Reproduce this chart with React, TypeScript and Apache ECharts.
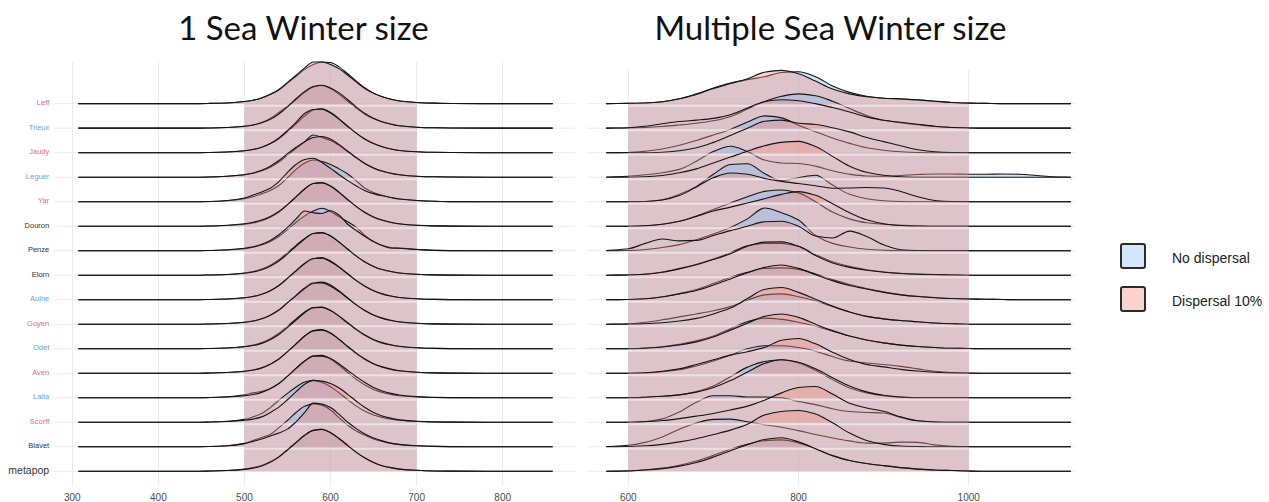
import React, { useEffect, useRef } from "react";
import * as echarts from "echarts";

// ---------- DATA ----------
const rowNames = ["Leff", "Trieux", "Jaudy", "Leguer", "Yar", "Douron", "Penze", "Elorn", "Aulne", "Goyen", "Odet", "Aven", "Laita", "Scorff", "Blavet", "metapop"];
const rowLabelColors = ["#e3725f", "#6fa3d2", "#e3725f", "#6fa3d2", "#e3725f", "#333333", "#333333", "#333333", "#6fa3d2", "#e3725f", "#6fa3d2", "#e3725f", "#6fa3d2", "#e3725f", "#333333", "#333333"];

const titles = ["1 Sea Winter size", "Multiple Sea Winter size"];
const legendNames = ["No dispersal", "Dispersal 10%"];

// 1 Sea Winter size (x = size, heights in row units)
const leftX = [307, 440, 460, 480, 500, 510, 520, 530, 540, 550, 560, 570, 580, 590, 600, 610, 620, 630, 640, 650, 660, 670, 680, 700, 720, 740, 780, 858];
const leftNoDispersal = [
  [0, 0, 0.01, 0.03, 0.09, 0.14, 0.23, 0.37, 0.56, 0.84, 1.12, 1.4, 1.6, 1.7, 1.68, 1.5, 1.22, 0.92, 0.64, 0.43, 0.28, 0.18, 0.11, 0.05, 0.02, 0.005, 0, 0],
  [0, 0, 0.01, 0.03, 0.08, 0.13, 0.23, 0.4, 0.64, 0.9, 1.18, 1.46, 1.68, 1.74, 1.62, 1.38, 1.1, 0.82, 0.57, 0.38, 0.25, 0.16, 0.1, 0.04, 0.015, 0.005, 0, 0],
  [0, 0, 0.01, 0.03, 0.08, 0.13, 0.22, 0.36, 0.57, 0.86, 1.18, 1.5, 1.74, 1.79, 1.64, 1.38, 1.08, 0.8, 0.56, 0.37, 0.24, 0.15, 0.09, 0.04, 0.015, 0.005, 0, 0],
  [0, 0, 0.01, 0.04, 0.1, 0.16, 0.26, 0.41, 0.62, 0.9, 1.18, 1.45, 1.72, 1.62, 1.5, 1.3, 1.04, 0.78, 0.55, 0.37, 0.24, 0.16, 0.1, 0.04, 0.015, 0.005, 0, 0],
  [0, 0, 0.01, 0.04, 0.12, 0.2, 0.32, 0.46, 0.66, 0.98, 1.32, 1.58, 1.7, 1.64, 1.52, 1.34, 1.13, 0.85, 0.55, 0.38, 0.26, 0.17, 0.11, 0.05, 0.02, 0.005, 0, 0],
  [0, 0, 0.01, 0.03, 0.08, 0.13, 0.22, 0.37, 0.58, 0.88, 1.2, 1.52, 1.74, 1.78, 1.64, 1.38, 1.08, 0.8, 0.56, 0.37, 0.24, 0.15, 0.09, 0.04, 0.015, 0.005, 0, 0],
  [0, 0, 0.01, 0.03, 0.08, 0.14, 0.23, 0.38, 0.58, 0.86, 1.16, 1.42, 1.62, 1.73, 1.6, 1.38, 1.18, 0.95, 0.62, 0.36, 0.2, 0.1, 0.11, 0.06, 0.015, 0.005, 0, 0],
  [0, 0, 0.01, 0.03, 0.09, 0.15, 0.25, 0.41, 0.63, 0.92, 1.22, 1.5, 1.7, 1.74, 1.6, 1.35, 1.06, 0.78, 0.54, 0.36, 0.23, 0.15, 0.09, 0.04, 0.015, 0.005, 0, 0],
  [0, 0, 0.01, 0.03, 0.08, 0.13, 0.22, 0.37, 0.58, 0.87, 1.17, 1.47, 1.67, 1.72, 1.58, 1.34, 1.06, 0.78, 0.55, 0.37, 0.24, 0.15, 0.09, 0.04, 0.015, 0.005, 0, 0],
  [0, 0, 0.01, 0.03, 0.08, 0.13, 0.22, 0.37, 0.58, 0.87, 1.16, 1.45, 1.66, 1.72, 1.6, 1.36, 1.07, 0.79, 0.55, 0.37, 0.24, 0.15, 0.09, 0.04, 0.015, 0.005, 0, 0],
  [0, 0, 0.01, 0.03, 0.09, 0.15, 0.25, 0.41, 0.63, 0.92, 1.22, 1.5, 1.68, 1.7, 1.56, 1.32, 1.04, 0.77, 0.54, 0.36, 0.23, 0.15, 0.09, 0.04, 0.015, 0.005, 0, 0],
  [0, 0, 0.01, 0.03, 0.08, 0.13, 0.22, 0.37, 0.58, 0.88, 1.2, 1.52, 1.74, 1.78, 1.64, 1.38, 1.08, 0.8, 0.56, 0.38, 0.25, 0.16, 0.1, 0.04, 0.015, 0.005, 0, 0],
  [0, 0, 0.01, 0.04, 0.12, 0.2, 0.26, 0.38, 0.58, 0.88, 1.2, 1.5, 1.7, 1.73, 1.58, 1.32, 1.03, 0.75, 0.52, 0.34, 0.22, 0.14, 0.08, 0.035, 0.01, 0.005, 0, 0],
  [0, 0, 0.01, 0.04, 0.12, 0.22, 0.36, 0.6, 0.9, 1.18, 1.44, 1.64, 1.71, 1.62, 1.45, 1.2, 0.92, 0.66, 0.45, 0.3, 0.2, 0.13, 0.08, 0.035, 0.01, 0.005, 0, 0],
  [0, 0, 0.01, 0.04, 0.14, 0.26, 0.38, 0.5, 0.78, 1.08, 1.4, 1.65, 1.75, 1.7, 1.5, 1.18, 0.88, 0.64, 0.47, 0.32, 0.22, 0.14, 0.09, 0.04, 0.015, 0.005, 0, 0],
  [0, 0, 0.01, 0.03, 0.09, 0.15, 0.24, 0.39, 0.6, 0.89, 1.18, 1.47, 1.67, 1.71, 1.57, 1.33, 1.05, 0.77, 0.54, 0.36, 0.23, 0.15, 0.09, 0.04, 0.015, 0.005, 0, 0],
];
const leftDispersal = [
  [0, 0, 0.01, 0.03, 0.09, 0.14, 0.23, 0.38, 0.58, 0.87, 1.16, 1.46, 1.7, 1.7, 1.6, 1.42, 1.16, 0.88, 0.62, 0.42, 0.28, 0.18, 0.11, 0.05, 0.02, 0.005, 0, 0],
  [0, 0, 0.01, 0.03, 0.08, 0.13, 0.22, 0.36, 0.58, 0.87, 1.2, 1.5, 1.7, 1.75, 1.64, 1.44, 1.16, 0.86, 0.6, 0.4, 0.26, 0.17, 0.1, 0.04, 0.015, 0.005, 0, 0],
  [0, 0, 0.01, 0.03, 0.08, 0.13, 0.22, 0.37, 0.6, 0.9, 1.24, 1.6, 1.76, 1.77, 1.62, 1.36, 1.07, 0.79, 0.55, 0.37, 0.24, 0.15, 0.09, 0.04, 0.015, 0.005, 0, 0],
  [0, 0, 0.01, 0.04, 0.1, 0.17, 0.28, 0.45, 0.68, 0.96, 1.22, 1.45, 1.62, 1.66, 1.55, 1.33, 1.06, 0.8, 0.56, 0.38, 0.25, 0.16, 0.1, 0.04, 0.015, 0.005, 0, 0],
  [0, 0, 0.01, 0.05, 0.15, 0.27, 0.4, 0.55, 0.82, 1.2, 1.52, 1.72, 1.77, 1.6, 1.36, 1.1, 0.86, 0.64, 0.45, 0.33, 0.24, 0.17, 0.11, 0.05, 0.02, 0.005, 0, 0],
  [0, 0, 0.01, 0.04, 0.1, 0.16, 0.25, 0.4, 0.6, 0.88, 1.2, 1.52, 1.74, 1.77, 1.63, 1.38, 1.08, 0.8, 0.56, 0.38, 0.25, 0.16, 0.1, 0.04, 0.015, 0.005, 0, 0],
  [0, 0, 0.01, 0.04, 0.1, 0.16, 0.26, 0.42, 0.65, 0.95, 1.3, 1.62, 1.55, 1.52, 1.63, 1.45, 1.08, 0.82, 0.58, 0.38, 0.22, 0.12, 0.1, 0.05, 0.015, 0.005, 0, 0],
  [0, 0, 0.01, 0.03, 0.08, 0.13, 0.22, 0.37, 0.58, 0.87, 1.18, 1.48, 1.7, 1.73, 1.6, 1.35, 1.06, 0.78, 0.54, 0.36, 0.23, 0.15, 0.09, 0.04, 0.015, 0.005, 0, 0],
  [0, 0, 0.01, 0.03, 0.08, 0.13, 0.22, 0.37, 0.58, 0.88, 1.19, 1.49, 1.68, 1.69, 1.55, 1.32, 1.05, 0.78, 0.55, 0.37, 0.24, 0.15, 0.09, 0.04, 0.015, 0.005, 0, 0],
  [0, 0, 0.01, 0.03, 0.08, 0.13, 0.22, 0.37, 0.58, 0.88, 1.18, 1.48, 1.68, 1.68, 1.55, 1.33, 1.06, 0.79, 0.56, 0.38, 0.25, 0.16, 0.1, 0.04, 0.015, 0.005, 0, 0],
  [0, 0, 0.01, 0.03, 0.08, 0.13, 0.22, 0.37, 0.58, 0.87, 1.17, 1.47, 1.67, 1.69, 1.56, 1.33, 1.06, 0.79, 0.56, 0.38, 0.25, 0.16, 0.1, 0.04, 0.015, 0.005, 0, 0],
  [0, 0, 0.01, 0.03, 0.08, 0.13, 0.22, 0.37, 0.58, 0.88, 1.2, 1.52, 1.73, 1.76, 1.63, 1.38, 1.09, 0.82, 0.58, 0.39, 0.26, 0.17, 0.1, 0.04, 0.015, 0.005, 0, 0],
  [0, 0, 0.01, 0.03, 0.08, 0.13, 0.22, 0.37, 0.58, 0.88, 1.2, 1.5, 1.7, 1.7, 1.6, 1.38, 1.12, 0.86, 0.62, 0.42, 0.28, 0.18, 0.11, 0.045, 0.015, 0.005, 0, 0],
  [0, 0, 0.01, 0.03, 0.08, 0.13, 0.22, 0.4, 0.62, 0.92, 1.25, 1.55, 1.71, 1.68, 1.58, 1.4, 1.14, 0.86, 0.6, 0.4, 0.26, 0.17, 0.1, 0.04, 0.015, 0.005, 0, 0],
  [0, 0, 0.01, 0.04, 0.13, 0.22, 0.32, 0.44, 0.56, 0.72, 1.02, 1.4, 1.78, 1.74, 1.6, 1.32, 1.0, 0.74, 0.52, 0.36, 0.24, 0.15, 0.1, 0.04, 0.015, 0.005, 0, 0],
  [0, 0, 0.01, 0.03, 0.08, 0.13, 0.22, 0.37, 0.58, 0.87, 1.17, 1.47, 1.67, 1.71, 1.57, 1.33, 1.05, 0.77, 0.54, 0.36, 0.23, 0.15, 0.09, 0.04, 0.015, 0.005, 0, 0],
];

// Multiple Sea Winter size
const rightX = [574, 600, 620, 640, 660, 680, 700, 720, 740, 760, 780, 800, 820, 840, 860, 880, 900, 920, 940, 960, 980, 1000, 1020, 1040, 1060, 1080, 1100, 1120];
const rightNoDispersal = [
  [0, 0.01, 0.03, 0.08, 0.2, 0.4, 0.64, 0.84, 0.98, 1.1, 1.27, 1.3, 1.1, 0.72, 0.46, 0.3, 0.22, 0.2, 0.16, 0.1, 0.05, 0.02, 0.01, 0, 0, 0, 0, 0],
  [0, 0.01, 0.03, 0.07, 0.13, 0.2, 0.3, 0.48, 0.78, 1.08, 1.3, 1.4, 1.32, 1.1, 0.8, 0.52, 0.32, 0.22, 0.14, 0.07, 0.03, 0.01, 0, 0, 0, 0, 0, 0],
  [0, 0.01, 0.06, 0.15, 0.3, 0.5, 0.72, 0.95, 1.25, 1.5, 1.42, 1.12, 0.85, 0.6, 0.38, 0.2, 0.1, 0.04, 0.01, 0, 0, 0, 0, 0, 0, 0, 0, 0],
  [0.01, 0.04, 0.1, 0.18, 0.32, 0.65, 1.05, 1.26, 1.05, 0.7, 0.58, 0.56, 0.45, 0.26, 0.12, 0.05, 0.04, 0.07, 0.11, 0.13, 0.13, 0.12, 0.12, 0.13, 0.12, 0.07, 0.02, 0],
  [0, 0, 0.01, 0.08, 0.3, 0.62, 1.12, 1.52, 1.55, 1.15, 0.86, 0.98, 1.08, 0.68, 0.3, 0.12, 0.04, 0.01, 0, 0, 0, 0, 0, 0, 0, 0, 0, 0],
  [0, 0, 0.02, 0.08, 0.2, 0.42, 0.68, 0.95, 1.2, 1.42, 1.48, 1.36, 1.0, 0.58, 0.3, 0.14, 0.08, 0.04, 0.01, 0, 0, 0, 0, 0, 0, 0, 0, 0],
  [0, 0.01, 0.05, 0.13, 0.25, 0.45, 0.68, 0.95, 1.3, 1.74, 1.55, 1.25, 0.62, 0.3, 0.15, 0.06, 0.02, 0, 0, 0, 0, 0, 0, 0, 0, 0, 0, 0],
  [0, 0.01, 0.05, 0.13, 0.28, 0.45, 0.66, 0.92, 1.2, 1.3, 1.3, 1.18, 0.84, 0.55, 0.36, 0.22, 0.14, 0.08, 0.05, 0.03, 0.01, 0, 0, 0, 0, 0, 0, 0],
  [0, 0.01, 0.04, 0.12, 0.25, 0.42, 0.66, 0.92, 1.12, 1.28, 1.3, 1.24, 1.05, 0.82, 0.62, 0.46, 0.32, 0.21, 0.14, 0.09, 0.05, 0.03, 0.02, 0.01, 0, 0, 0, 0],
  [0, 0.02, 0.08, 0.18, 0.3, 0.42, 0.55, 0.72, 0.98, 1.2, 1.24, 1.12, 0.95, 0.72, 0.5, 0.32, 0.22, 0.15, 0.1, 0.05, 0.02, 0, 0, 0, 0, 0, 0, 0],
  [0, 0, 0.03, 0.08, 0.18, 0.32, 0.52, 0.82, 1.1, 1.25, 1.2, 1.08, 0.92, 0.72, 0.52, 0.36, 0.24, 0.15, 0.09, 0.05, 0.02, 0.01, 0, 0, 0, 0, 0, 0],
  [0, 0, 0.01, 0.06, 0.14, 0.3, 0.5, 0.74, 1.0, 1.12, 1.12, 1.05, 0.9, 0.68, 0.5, 0.42, 0.36, 0.28, 0.18, 0.08, 0.03, 0.01, 0, 0, 0, 0, 0, 0],
  [0, 0, 0.02, 0.06, 0.12, 0.25, 0.48, 0.86, 1.25, 1.48, 1.55, 1.42, 1.12, 0.74, 0.4, 0.2, 0.08, 0.02, 0, 0, 0, 0, 0, 0, 0, 0, 0, 0],
  [0, 0, 0.03, 0.14, 0.42, 0.82, 1.08, 1.08, 1.03, 1.03, 1.0, 0.85, 0.72, 0.55, 0.44, 0.4, 0.38, 0.2, 0.06, 0.01, 0, 0, 0, 0, 0, 0, 0, 0],
  [0.01, 0.06, 0.18, 0.4, 0.72, 0.97, 1.12, 1.13, 1.02, 0.9, 0.8, 0.66, 0.5, 0.36, 0.24, 0.15, 0.15, 0.19, 0.18, 0.08, 0.02, 0, 0, 0, 0, 0, 0, 0],
  [0, 0.02, 0.06, 0.13, 0.25, 0.42, 0.65, 0.9, 1.1, 1.25, 1.28, 1.16, 0.92, 0.64, 0.44, 0.32, 0.23, 0.15, 0.09, 0.05, 0.03, 0.01, 0, 0, 0, 0, 0, 0],
];
const rightDispersal = [
  [0, 0.01, 0.03, 0.08, 0.2, 0.38, 0.62, 0.82, 1.02, 1.28, 1.36, 1.22, 0.92, 0.6, 0.4, 0.28, 0.22, 0.19, 0.15, 0.1, 0.05, 0.02, 0.01, 0, 0, 0, 0, 0],
  [0, 0.02, 0.08, 0.18, 0.27, 0.33, 0.4, 0.55, 0.82, 1.08, 1.16, 1.12, 1.0, 0.84, 0.66, 0.46, 0.32, 0.24, 0.16, 0.08, 0.03, 0.01, 0, 0, 0, 0, 0, 0],
  [0, 0, 0, 0.02, 0.08, 0.2, 0.42, 0.7, 1.0, 1.28, 1.33, 1.2, 1.15, 1.02, 0.85, 0.62, 0.45, 0.28, 0.12, 0.04, 0.01, 0, 0, 0, 0, 0, 0, 0],
  [0, 0, 0.02, 0.07, 0.18, 0.34, 0.58, 0.82, 1.06, 1.28, 1.42, 1.46, 1.25, 0.85, 0.45, 0.2, 0.08, 0.02, 0, 0, 0, 0, 0, 0, 0, 0, 0, 0],
  [0, 0, 0.01, 0.07, 0.25, 0.6, 0.98, 1.17, 1.12, 0.95, 0.83, 0.74, 0.65, 0.55, 0.56, 0.58, 0.56, 0.42, 0.2, 0.05, 0.01, 0, 0, 0, 0, 0, 0, 0],
  [0, 0, 0.02, 0.08, 0.2, 0.4, 0.62, 0.78, 0.95, 1.12, 1.3, 1.41, 1.26, 0.92, 0.55, 0.26, 0.1, 0.03, 0.01, 0, 0, 0, 0, 0, 0, 0, 0, 0],
  [0.01, 0.08, 0.3, 0.48, 0.4, 0.42, 0.62, 0.82, 1.0, 1.18, 1.2, 1.0, 0.6, 0.52, 0.8, 0.58, 0.24, 0.04, 0.01, 0, 0, 0, 0, 0, 0, 0, 0, 0],
  [0, 0.01, 0.04, 0.12, 0.26, 0.43, 0.64, 0.88, 1.18, 1.35, 1.36, 1.18, 0.8, 0.5, 0.32, 0.2, 0.12, 0.07, 0.04, 0.02, 0.01, 0, 0, 0, 0, 0, 0, 0],
  [0, 0.01, 0.04, 0.12, 0.24, 0.38, 0.6, 0.85, 1.1, 1.32, 1.42, 1.28, 1.02, 0.78, 0.58, 0.44, 0.3, 0.2, 0.13, 0.08, 0.05, 0.03, 0.02, 0.01, 0, 0, 0, 0],
  [0, 0, 0.02, 0.06, 0.13, 0.24, 0.42, 0.66, 1.05, 1.42, 1.5, 1.3, 1.02, 0.74, 0.5, 0.32, 0.22, 0.15, 0.1, 0.05, 0.02, 0, 0, 0, 0, 0, 0, 0],
  [0, 0, 0.02, 0.07, 0.15, 0.28, 0.48, 0.76, 1.04, 1.32, 1.42, 1.28, 1.0, 0.74, 0.52, 0.36, 0.24, 0.15, 0.09, 0.05, 0.02, 0.01, 0, 0, 0, 0, 0, 0],
  [0, 0, 0.02, 0.08, 0.18, 0.36, 0.55, 0.74, 0.88, 1.05, 1.35, 1.42, 1.2, 0.86, 0.56, 0.36, 0.26, 0.16, 0.09, 0.04, 0.01, 0, 0, 0, 0, 0, 0, 0],
  [0, 0, 0.02, 0.06, 0.12, 0.23, 0.42, 0.7, 1.05, 1.4, 1.55, 1.45, 1.18, 0.82, 0.48, 0.24, 0.1, 0.03, 0, 0, 0, 0, 0, 0, 0, 0, 0, 0],
  [0, 0, 0.02, 0.07, 0.15, 0.25, 0.36, 0.5, 0.66, 0.9, 1.2, 1.42, 1.46, 1.15, 0.78, 0.58, 0.45, 0.22, 0.06, 0.01, 0, 0, 0, 0, 0, 0, 0, 0],
  [0, 0.01, 0.04, 0.1, 0.2, 0.33, 0.5, 0.68, 0.92, 1.3, 1.44, 1.48, 1.34, 0.98, 0.56, 0.26, 0.1, 0.03, 0.01, 0, 0, 0, 0, 0, 0, 0, 0, 0],
  [0, 0.01, 0.05, 0.11, 0.21, 0.36, 0.58, 0.84, 1.08, 1.3, 1.37, 1.2, 0.92, 0.64, 0.44, 0.32, 0.23, 0.15, 0.09, 0.05, 0.03, 0.01, 0, 0, 0, 0, 0, 0],
];

// axis settings (value units)
const leftAxis = { min: 300, max: 800, interval: 100 };
const rightAxis = { min: 600, max: 1000, interval: 200 };
const leftBand = [500, 700];
const rightBand = [600, 1000];
const leftGridExtent = [279, 884];
const rightGridExtent = [551, 1125];

// ---------- STYLE ----------
const BLUE_FILL = "rgba(135,188,238,0.4)";
const RED_FILL = "rgba(243,145,133,0.4)";
const LINE = "#141414";
const GRID = "#ebebeb";
const nRows = rowNames.length;
const Y_MIN = -0.6;
const PX_PER_ROW = 424 / 17.3;

function f(n: number) {
  return n.toFixed(2);
}

function monoCurve(p: number[][]): string {
  const n = p.length;
  const dx: number[] = [], m: number[] = [];
  for (let i = 0; i < n - 1; i++) {
    dx.push(p[i + 1][0] - p[i][0]);
    m.push((p[i + 1][1] - p[i][1]) / (p[i + 1][0] - p[i][0]));
  }
  const t: number[] = new Array(n).fill(0);
  t[0] = m[0];
  t[n - 1] = m[n - 2];
  for (let i = 1; i < n - 1; i++) {
    if (m[i - 1] * m[i] <= 0) t[i] = 0;
    else {
      const w1 = 2 * dx[i] + dx[i - 1];
      const w2 = dx[i] + 2 * dx[i - 1];
      t[i] = (w1 + w2) / (w1 / m[i - 1] + w2 / m[i]);
    }
  }
  let d = "";
  for (let i = 0; i < n - 1; i++) {
    const h = dx[i] / 3;
    d += ` C${f(p[i][0] + h)},${f(p[i][1] + t[i] * h)} ${f(p[i + 1][0] - h)},${f(p[i + 1][1] - t[i + 1] * h)} ${f(p[i + 1][0])},${f(p[i + 1][1])}`;
  }
  return d;
}

function gridSeries(axisIdx: number, ext: number[], withLabels: boolean) {
  return {
    type: "custom",
    xAxisIndex: axisIdx,
    yAxisIndex: axisIdx,
    z: 1,
    silent: true,
    data: rowNames.map((_, r) => [ext[0], nRows - 1 - r]),
    encode: { x: 0, y: 1 },
    renderItem: (params: any, api: any) => {
      const r = params.dataIndex;
      const k = nRows - 1 - r;
      const a = api.coord([ext[0], k]);
      const b = api.coord([ext[1], k]);
      const children: any[] = [
        { type: "line", shape: { x1: a[0], y1: a[1], x2: b[0], y2: b[1] }, style: { stroke: GRID, lineWidth: 1 } },
      ];
      if (withLabels) {
        const isMeta = r === nRows - 1;
        children.push({
          type: "text",
          x: a[0] - 5,
          y: a[1] - 1,
          style: {
            text: rowNames[r],
            fill: rowLabelColors[r],
            fontSize: isMeta ? 10.5 : 7.5,
            fontFamily: "Liberation Sans",
            align: "right",
            textAlign: "right",
            verticalAlign: "middle",
            textVerticalAlign: "middle",
          },
        });
      }
      return { type: "group", children };
    },
  };
}

function ridgeSeries(axisIdx: number, xs: number[], blues: number[][], reds: number[][], band: number[]) {
  const items: number[][] = [];
  for (let r = 0; r < nRows; r++) {
    items.push([r, 0]);
    items.push([r, 1]);
  }
  return {
    type: "custom",
    xAxisIndex: axisIdx,
    yAxisIndex: axisIdx,
    z: 3,
    silent: true,
    data: items.map(([r]) => [xs[0], nRows - 1 - r]),
    encode: { x: 0, y: 1 },
    renderItem: (params: any, api: any) => {
      const [r, s] = items[params.dataIndex];
      const vals = (s === 0 ? blues : reds)[r];
      const k = nRows - 1 - r;
      const pts = xs.map((x, i) => api.coord([x, k + vals[i]]));
      const baseY = api.coord([xs[0], k])[1];
      const curve = monoCurve(pts);
      const last = pts[pts.length - 1];
      let fillD = `M${f(pts[0][0])},${f(baseY)} L${f(pts[0][0])},${f(pts[0][1])}${curve} L${f(last[0])},${f(baseY)} Z`;
      const children: any[] = [];
      let a: number[] = [0, 0];
      let b: number[] = [0, 0];
      if (r > 0) {
        a = api.coord([band[0], k + 1]);
        b = api.coord([band[1], k]);
        fillD += ` M${f(a[0])},${f(b[1])} L${f(a[0])},${f(a[1])} L${f(b[0])},${f(a[1])} L${f(b[0])},${f(b[1])} Z`;
      }
      children.push({ type: "path", shape: { pathData: fillD }, style: { fill: s === 0 ? BLUE_FILL : RED_FILL, stroke: null } });
      if (r > 0 && s === 1) {
        children.push({
          type: "rect",
          shape: { x: a[0], y: a[1] + 1, width: b[0] - a[0], height: 2 },
          style: { fill: "rgba(255,255,255,0.5)" },
        });
      }
      const strokeD = `M${f(pts[0][0])},${f(pts[0][1])}${curve}`;
      children.push({ type: "path", shape: { pathData: strokeD }, style: { fill: null, stroke: LINE, lineWidth: 1.1 } });
      return { type: "group", children };
    },
  };
}

function xAxisOpt(gridIndex: number, ax: { min: number; max: number; interval: number }) {
  return {
    type: "value",
    gridIndex,
    min: ax.min,
    max: ax.max,
    interval: ax.interval,
    axisLine: { show: false },
    axisTick: { show: false },
    axisLabel: { color: "#4d4d4d", fontSize: 10, fontFamily: "Liberation Sans", margin: 6, formatter: (v: number) => String(v) },
    splitLine: { show: true, lineStyle: { color: GRID, width: 1 } },
  };
}

export default function App() {
  const ref = useRef<HTMLDivElement>(null);
  useEffect(() => {
    if (!ref.current) return;
    const chart = echarts.init(ref.current, undefined, { renderer: "svg" });
    const leftTop = 62;
    const rightTop = 70;
    const bottom = 486;
    const option: any = {
      animation: false,
      backgroundColor: "#ffffff",
      grid: [
        { left: 72.3, top: leftTop, width: 430.4, height: bottom - leftTop },
        { left: 628.3, top: rightTop, width: 340.4, height: bottom - rightTop },
      ],
      xAxis: [xAxisOpt(0, leftAxis), xAxisOpt(1, rightAxis)],
      yAxis: [
        { type: "value", gridIndex: 0, min: Y_MIN, max: Y_MIN + (bottom - leftTop) / PX_PER_ROW, show: false },
        { type: "value", gridIndex: 1, min: Y_MIN, max: Y_MIN + (bottom - rightTop) / PX_PER_ROW, show: false },
      ],
      series: [
        gridSeries(0, leftGridExtent, true),
        gridSeries(1, rightGridExtent, false),
        ridgeSeries(0, leftX, leftNoDispersal, leftDispersal, leftBand),
        ridgeSeries(1, rightX, rightNoDispersal, rightDispersal, rightBand),
      ],
      graphic: [
        {
          type: "text", x: 303.5, y: 27,
          style: { text: titles[0], fill: "#111", fontSize: 33, fontFamily: "Lato", align: "center", textAlign: "center", verticalAlign: "middle", textVerticalAlign: "middle" },
        },
        {
          type: "text", x: 830.5, y: 27,
          style: { text: titles[1], fill: "#111", fontSize: 33, fontFamily: "Lato", align: "center", textAlign: "center", verticalAlign: "middle", textVerticalAlign: "middle" },
        },
        { type: "rect", shape: { x: 1121, y: 244, width: 24, height: 24, r: 2 }, style: { fill: "rgb(212,231,250)", stroke: "#2a2a2a", lineWidth: 2 } },
        { type: "rect", shape: { x: 1121, y: 287, width: 24, height: 24, r: 2 }, style: { fill: "rgb(252,210,206)", stroke: "#2a2a2a", lineWidth: 2 } },
        {
          type: "text", x: 1172, y: 258,
          style: { text: legendNames[0], fill: "#222", fontSize: 14, fontFamily: "Liberation Sans", align: "left", textAlign: "left", verticalAlign: "middle", textVerticalAlign: "middle" },
        },
        {
          type: "text", x: 1172, y: 301,
          style: { text: legendNames[1], fill: "#222", fontSize: 14, fontFamily: "Liberation Sans", align: "left", textAlign: "left", verticalAlign: "middle", textVerticalAlign: "middle" },
        },
      ],
    };
    chart.setOption(option);
    return () => chart.dispose();
  }, []);
  return <div ref={ref} style={{ position: "absolute", left: 0, top: 0, width: 1269, height: 502 }} />;
}
